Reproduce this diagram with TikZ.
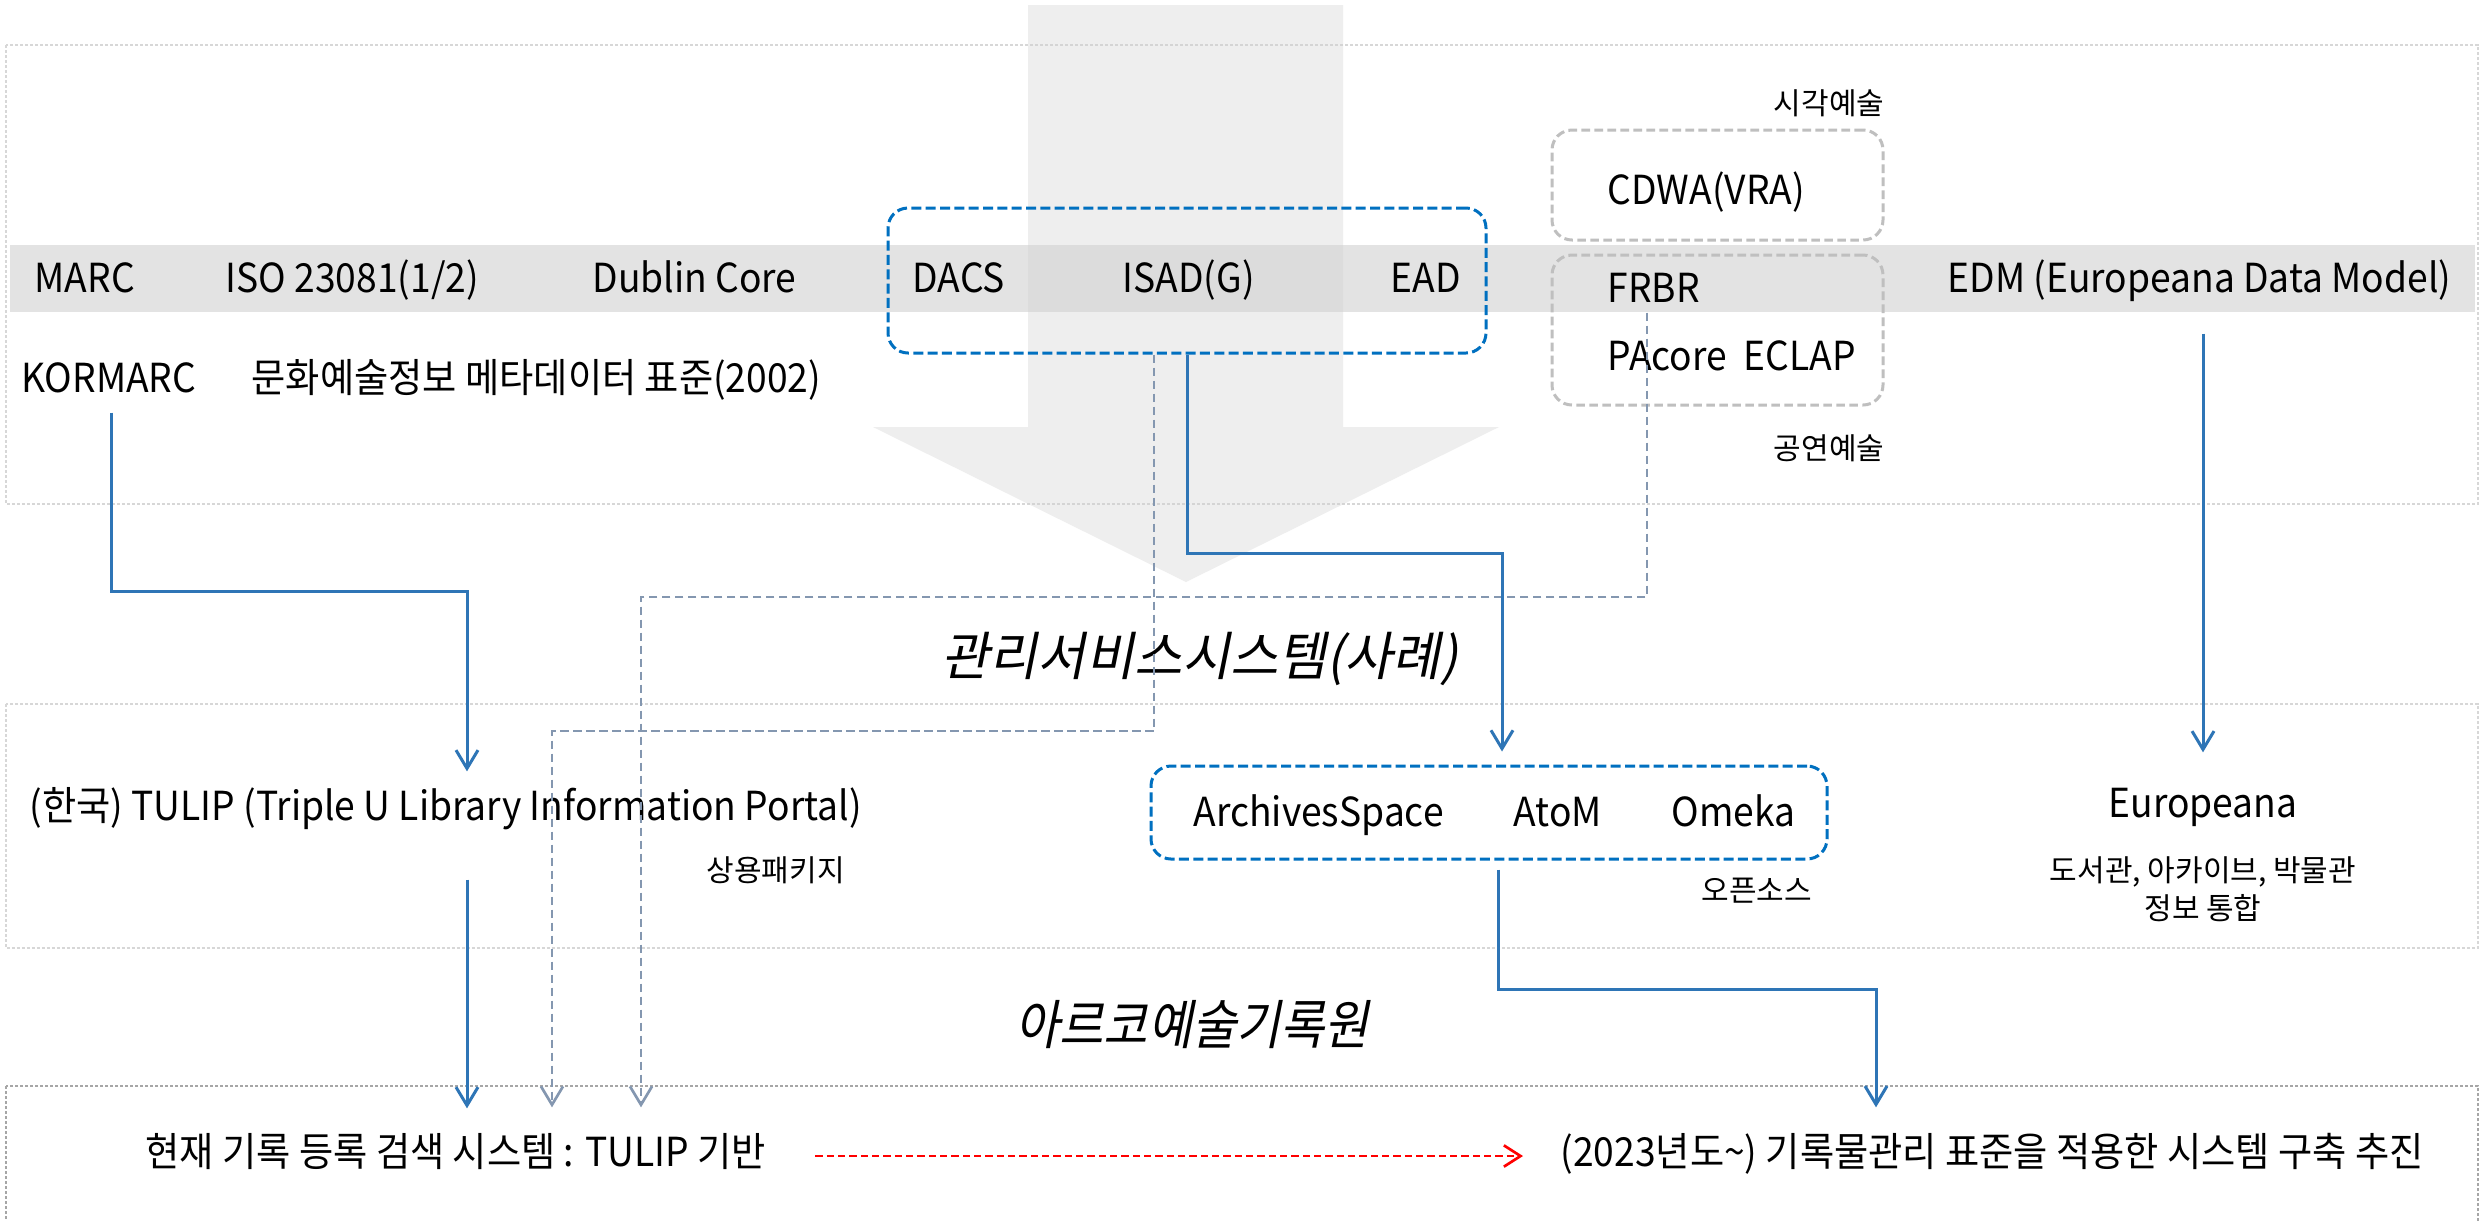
\documentclass[tikz,border=0pt]{standalone}
\usepackage{fontspec}
\setmainfont[FakeStretch=0.93]{Noto Sans CJK KR}
\newfontfamily\smallfont{Noto Sans CJK KR}
\newfontfamily\slantfont[FakeSlant=0.2]{Noto Sans CJK KR}
\newfontfamily\slantnarrow[FakeSlant=0.2,FakeStretch=0.9]{Noto Sans CJK KR}
\usetikzlibrary{arrows.meta}
\definecolor{lineblue}{RGB}{46,117,182}
\definecolor{boxblue}{RGB}{0,112,192}
\definecolor{slate}{RGB}{132,151,176}
\definecolor{boxgray}{RGB}{191,191,191}
\definecolor{bandgray}{RGB}{227,227,227}
\definecolor{arrowgray}{RGB}{208,208,208}
\definecolor{panelgray}{RGB}{215,215,215}
\definecolor{panelgrayB}{RGB}{166,166,166}
\begin{document}
\begin{tikzpicture}[x=0.3pt,y=-0.3pt,
  txt/.style={inner sep=0pt, text height=9pt, text depth=3pt, font=\fontsize{12}{14}\selectfont},
  smalltxt/.style={inner sep=0pt, text height=7pt, text depth=2pt, font=\smallfont\fontsize{9}{11}\selectfont},
  titletxt/.style={inner sep=0pt, text height=12pt, text depth=3pt},
  panel/.style={draw=panelgray, line width=0.4pt, dash pattern=on 1pt off 0.5pt},
  panelB/.style={draw=panelgrayB, line width=0.5pt, dash pattern=on 1pt off 0.5pt},
  bluebox/.style={draw=boxblue, line width=0.9pt, dash pattern=on 3pt off 1.3pt, rounded corners=6pt, inner sep=0pt},
  graybox/.style={draw=boxgray, line width=0.9pt, dash pattern=on 2.6pt off 1.3pt, rounded corners=6pt, inner sep=0pt},
  conn/.style={draw=lineblue, line width=0.9pt, -{Straight Barb[length=5.5pt,width=6.6pt,line width=0.9pt]}},
  dconn/.style={draw=slate, line width=0.8pt, dash pattern=on 2.6pt off 1.3pt, -{Straight Barb[length=5.5pt,width=6.6pt,line width=0.8pt]}},
  rconn/.style={draw=red, line width=0.7pt, dash pattern=on 2.2pt off 1.2pt, -{Straight Barb[length=5pt,width=6.4pt,line width=0.8pt]}}
]
\useasboundingbox (0,0) rectangle (2481,1220);
\fill[white] (0,0) rectangle (2481,1220);
% panels
\draw[panel] (6,45) rectangle (2478,504);
\draw[panel] (6,704) rectangle (2478,948);
\draw[panelB] (6,1086) rectangle (2478,1240);
% band
\fill[bandgray] (10,245) rectangle (2475,312);
% big background arrow
\fill[arrowgray, fill opacity=0.36] (1028,5) -- (1343,5) -- (1343,427) -- (1499,427) -- (1186,582) -- (873,427) -- (1028,427) -- cycle;

% boxes
\node[bluebox, minimum width=179.4pt, minimum height=43.5pt] (dacsbox) at (1187,280.5) {};
\node[graybox, minimum width=99.3pt, minimum height=33pt] (cdwabox) at (1717.5,185) {};
\node[graybox, minimum width=99.3pt, minimum height=45pt] (frbrbox) at (1717.5,330) {};
\node[bluebox, minimum width=202.8pt, minimum height=27.9pt] (archbox) at (1489,812.5) {};

% band texts
\node[txt, anchor=base west] (marc) at (34,292) {MARC};
\node[txt, anchor=base west] (iso) at (225,292) {ISO 23081(1/2)};
\node[txt, anchor=base west] (dublin) at (592,292) {Dublin Core};
\node[txt, anchor=base west] (dacs) at (912,292) {DACS};
\node[txt, anchor=base west] (isad) at (1122,292) {ISAD(G)};
\node[txt, anchor=base west] (ead) at (1390,292) {EAD};
\node[txt, anchor=base west] (edm) at (1947,292) {EDM (Europeana Data Model)};
\node[txt, anchor=base west] (cdwa) at (1607,204) {CDWA(VRA)};
\node[txt, anchor=base west] (frbr) at (1607,302) {FRBR};
\node[txt, anchor=base west] (pacore) at (1607,370) {PAcore\ \ ECLAP};
\node[smalltxt, anchor=base east] (visual) at (1885,114) {시각예술};
\node[smalltxt, anchor=base east] (perf) at (1885,459) {공연예술};
\node[txt, anchor=base west] (kormarc) at (21,392) {KORMARC};
\node[txt, anchor=base west] (munhwa) at (251,392) {문화예술정보 메타데이터 표준(2002)};

% titles
\node[titletxt, anchor=base west, font=\slantfont\fontsize{15.7}{18}\selectfont] (title1) at (941,675) {관리서비스시스템(사례)};
\node[titletxt, anchor=base west, font=\slantnarrow\fontsize{16}{18}\selectfont] (title2) at (1015,1044) {아르코예술기록원};

% middle panel
\node[txt, anchor=base west] (tulip) at (29,820) {(한국) TULIP (Triple U Library Information Portal)};
\node[smalltxt, anchor=base west] (sangyong) at (706,881) {상용패키지};
\node[txt, anchor=base west] (arch) at (1193,826) {ArchivesSpace};
\node[txt, anchor=base west] (atom) at (1513,826) {AtoM};
\node[txt, anchor=base west] (omeka) at (1671,826) {Omeka};
\node[smalltxt, anchor=base west] (opensrc) at (1701,901) {오픈소스};
\node[txt, anchor=base] (europeana) at (2203,817) {Europeana};
\node[smalltxt, anchor=base] (dosogwan) at (2203,881) {도서관, 아카이브, 박물관};
\node[smalltxt, anchor=base] (jeongbo) at (2203,919) {정보 통합};

% bottom panel
\node[txt, anchor=base west] (hyunjae) at (145,1166) {현재 기록 등록 검색 시스템 : TULIP 기반};
\node[txt, anchor=base west] (future) at (1560,1166) {(2023년도\textasciitilde) 기록물관리 표준을 적용한 시스템 구축 추진};

% connectors
\draw[conn, shorten <=3pt, shorten >=5.4pt] (kormarc.south -| 111,0) -- (111,591) -| (tulip.north -| 467,0);
\draw[conn, shorten <=14.7pt, shorten >=8.1pt] (tulip.south -| 467,0) -- (hyunjae.north -| 467,0);
\draw[dconn, shorten >=8.4pt] (dacsbox.south -| 1154,0) |- (552,731) -- (hyunjae.north -| 552,0);
\draw[dconn, shorten >=8.4pt] (frbr.south -| 1647,0) |- (641,597) -- (hyunjae.north -| 641,0);
\draw[conn, shorten >=3.9pt] (dacsbox.south -| 1187,0) |- (1502,553) -- (archbox.north -| 1502,0);
\draw[conn, shorten <=9.3pt, shorten >=10.2pt] (edm.south -| 2203,0) -- (europeana.north);
\draw[conn, shorten <=2.7pt, shorten >=8.4pt] (archbox.south -| 1498,0) |- (1876,989) -- (future.north -| 1876,0);
\draw[rconn, shorten <=14.7pt, shorten >=11.1pt] (hyunjae.east) -- (future.west);
\end{tikzpicture}
\end{document}
